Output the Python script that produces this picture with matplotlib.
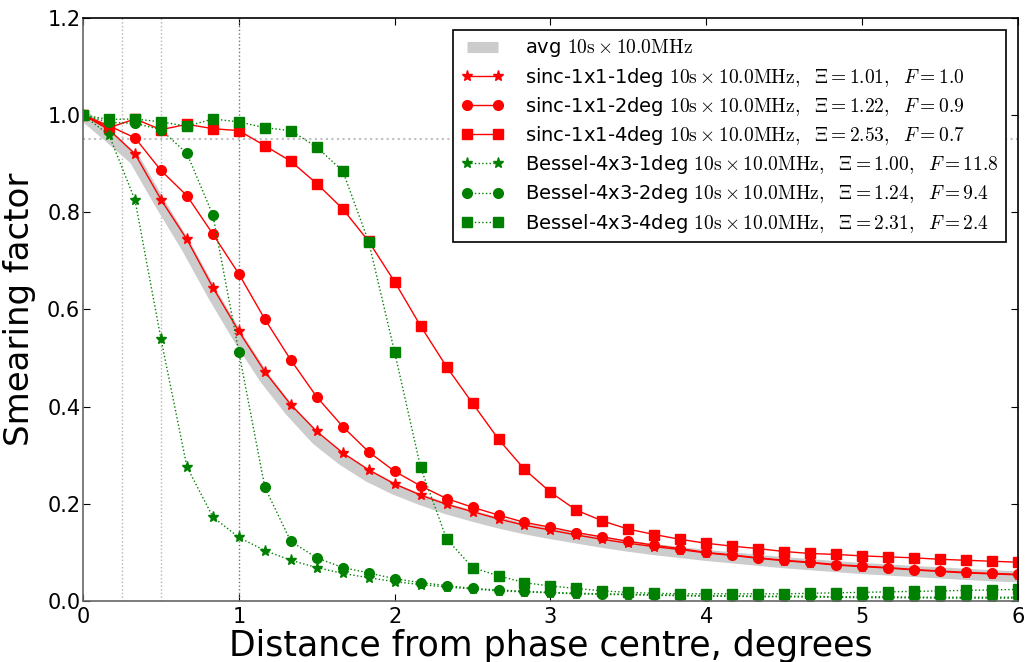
import numpy as np
import matplotlib
matplotlib.use('Agg')
import matplotlib.pyplot as plt

plt.rcParams['mathtext.fontset'] = 'cm'

# distance grid (degrees), 1/6 deg spacing
dist = np.linspace(0, 6, 37)

avg = [1.0, 0.955, 0.908, 0.815, 0.727, 0.630,
       0.540, 0.458, 0.390, 0.332, 0.290, 0.256,
       0.230, 0.209, 0.190, 0.175, 0.161, 0.149,
       0.139, 0.130, 0.121, 0.113, 0.106, 0.100,
       0.094, 0.089, 0.084, 0.079, 0.075, 0.071,
       0.067, 0.064, 0.061, 0.058, 0.055, 0.052,
       0.050]

sinc_1deg = [1.0, 0.970, 0.920, 0.826, 0.744, 0.645,
             0.555, 0.472, 0.404, 0.349, 0.305, 0.270,
             0.241, 0.218, 0.199, 0.184, 0.169, 0.156,
             0.146, 0.136, 0.127, 0.119, 0.112, 0.106,
             0.099, 0.094, 0.088, 0.083, 0.079, 0.074,
             0.071, 0.068, 0.064, 0.061, 0.058, 0.056,
             0.054]

sinc_2deg = [1.0, 0.978, 0.953, 0.886, 0.834, 0.755,
             0.673, 0.580, 0.496, 0.420, 0.359, 0.307,
             0.267, 0.237, 0.211, 0.193, 0.177, 0.162,
             0.152, 0.141, 0.132, 0.123, 0.115, 0.108,
             0.100, 0.095, 0.089, 0.084, 0.080, 0.075,
             0.072, 0.069, 0.065, 0.062, 0.059, 0.057,
             0.055]

sinc_4deg = [1.0, 0.974, 0.992, 0.970, 0.981, 0.972,
             0.968, 0.937, 0.905, 0.859, 0.807, 0.740,
             0.657, 0.566, 0.482, 0.407, 0.333, 0.271,
             0.224, 0.187, 0.165, 0.148, 0.137, 0.127,
             0.119, 0.113, 0.108, 0.102, 0.098, 0.096,
             0.093, 0.091, 0.089, 0.086, 0.084, 0.082,
             0.080]

bessel_1deg = [1.0, 0.959, 0.825, 0.539, 0.276, 0.173,
               0.131, 0.104, 0.084, 0.069, 0.057, 0.048,
               0.040, 0.034, 0.029, 0.025, 0.021, 0.019,
               0.017, 0.015, 0.014, 0.013, 0.012, 0.011,
               0.010, 0.010, 0.009, 0.009, 0.008, 0.008,
               0.007, 0.007, 0.007, 0.006, 0.006, 0.006,
               0.006]

bessel_2deg = [1.0, 0.985, 0.983, 0.970, 0.921, 0.794,
               0.512, 0.234, 0.123, 0.089, 0.069, 0.058,
               0.046, 0.038, 0.032, 0.026, 0.023, 0.020,
               0.018, 0.016, 0.015, 0.014, 0.013, 0.012,
               0.011, 0.011, 0.010, 0.010, 0.010, 0.009,
               0.009, 0.009, 0.008, 0.008, 0.008, 0.008,
               0.008]

bessel_4deg = [1.0, 0.991, 0.992, 0.986, 0.977, 0.992,
               0.986, 0.974, 0.968, 0.934, 0.885, 0.739,
               0.512, 0.275, 0.128, 0.069, 0.052, 0.038,
               0.031, 0.026, 0.021, 0.018, 0.016, 0.015,
               0.015, 0.015, 0.015, 0.015, 0.016, 0.017,
               0.018, 0.019, 0.020, 0.021, 0.022, 0.023,
               0.024]

labels = {
    'avg': r"avg $10{\rm s}\times10.0{\rm MHz}$",
    's1': r"sinc-1x1-1deg $10{\rm s}\times10.0{\rm MHz},\ \ \Xi=1.01,\ \ F=1.0$",
    's2': r"sinc-1x1-2deg $10{\rm s}\times10.0{\rm MHz},\ \ \Xi=1.22,\ \ F=0.9$",
    's4': r"sinc-1x1-4deg $10{\rm s}\times10.0{\rm MHz},\ \ \Xi=2.53,\ \ F=0.7$",
    'b1': r"Bessel-4x3-1deg $10{\rm s}\times10.0{\rm MHz},\ \ \Xi=1.00,\ \ F=11.8$",
    'b2': r"Bessel-4x3-2deg $10{\rm s}\times10.0{\rm MHz},\ \ \Xi=1.24,\ \ F=9.4$",
    'b4': r"Bessel-4x3-4deg $10{\rm s}\times10.0{\rm MHz},\ \ \Xi=2.31,\ \ F=2.4$",
}

fig = plt.figure(figsize=(10.26, 6.62), dpi=100)
ax = fig.add_axes([0.081, 0.092, 0.911, 0.881])

# reference lines
ax.axvline(0.25, color='0.7', ls=':', lw=1)
ax.axvline(0.5, color='0.7', ls=':', lw=1)
ax.axvline(1.0, color='0.45', ls=':', lw=1)
ax.axhline(0.95, color='0.75', ls=':', lw=1.5)

ax.plot(dist, avg, color='0.8', lw=8, solid_capstyle='butt', label=labels['avg'])

red = dict(color='red', ls='-', lw=1, mec='red')
green = dict(color='green', ls=':', lw=1, mec='green')
ax.plot(dist, sinc_1deg, marker='*', ms=8, label=labels['s1'], **red)
ax.plot(dist, sinc_2deg, marker='o', ms=7, label=labels['s2'], **red)
ax.plot(dist, sinc_4deg, marker='s', ms=7, label=labels['s4'], **red)
ax.plot(dist, bessel_1deg, marker='*', ms=8, label=labels['b1'], **green)
ax.plot(dist, bessel_2deg, marker='o', ms=7, label=labels['b2'], **green)
ax.plot(dist, bessel_4deg, marker='s', ms=7, label=labels['b4'], **green)

ax.set_xlim(0, 6)
ax.set_ylim(0, 1.2)
ax.set_xticks(range(7))
ax.set_yticks(np.arange(0, 1.21, 0.2))
ax.set_yticklabels(['0.0', '0.2', '0.4', '0.6', '0.8', '1.0', '1.2'])
ax.tick_params(direction='in', top=True, right=True, labelsize=15, length=5)
ax.tick_params(axis='y', pad=2)
ax.tick_params(axis='x', pad=4)
for s in ax.spines.values():
    s.set_linewidth(1.2)
ax.spines['left'].set_color('0.4')
ax.spines['bottom'].set_color('0.4')

ax.set_xlabel('Distance from phase centre, degrees', fontsize=25, labelpad=2)
ax.set_ylabel('Smearing factor', fontsize=24.5, labelpad=8)

leg = ax.legend(loc='upper right', fontsize=14, numpoints=2, handlelength=2.2,
                fancybox=False, framealpha=1, edgecolor='black',
                labelspacing=0.32, borderpad=0.4, handletextpad=1.1,
                borderaxespad=0.6)
leg.get_frame().set_linewidth(1.2)

fig.savefig('out.png', dpi=100)
